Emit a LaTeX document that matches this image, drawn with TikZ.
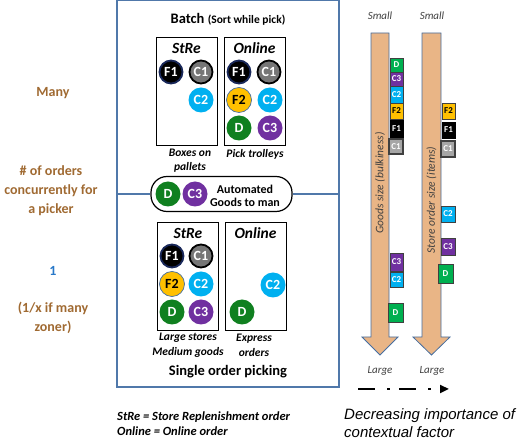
\documentclass[tikz,border=0pt]{standalone}
\usepackage{fontspec}
\setmainfont{Carlito}
\newfontfamily\arialfont{Liberation Sans}
\usetikzlibrary{arrows.meta}
\definecolor{brownlbl}{RGB}{160,106,50}
\definecolor{bluelbl}{RGB}{40,120,200}
\definecolor{framebl}{RGB}{80,120,170}
\definecolor{navyb}{RGB}{25,40,90}
\definecolor{grayc}{RGB}{118,118,118}
\definecolor{cyanc}{RGB}{0,176,240}
\definecolor{goldc}{RGB}{255,192,0}
\definecolor{greenc}{RGB}{16,128,32}
\definecolor{purplec}{RGB}{112,48,160}
\definecolor{greent}{RGB}{0,176,80}
\definecolor{grayt}{RGB}{166,166,166}
\definecolor{tanc}{RGB}{233,181,134}
\definecolor{arrowbd}{RGB}{70,110,160}
\definecolor{smallgray}{RGB}{64,64,64}
\tikzset{
  circ/.style={circle, minimum size=25pt, inner sep=0pt, text=white,
    font=\bfseries\fontsize{14}{14}\selectfont},
  cF1/.style={circ, fill=black, draw=navyb, line width=1.8pt, minimum size=23pt},
  cC1/.style={circ, fill=grayc, draw=black, line width=1.8pt, minimum size=23pt},
  cC2/.style={circ, fill=cyanc},
  cF2/.style={circ, fill=goldc, draw=arrowbd, line width=0.7pt, text=black},
  cD/.style={circ, fill=greenc},
  cC3/.style={circ, fill=purplec},
  tag/.style={rectangle, inner sep=0pt, text=white, draw=smallgray, line width=0.8pt,
    font=\bfseries\fontsize{9}{9}\selectfont},
  tD/.style={tag, fill=greent},
  tC3/.style={tag, fill=purplec},
  tC2/.style={tag, fill=cyanc},
  tF2/.style={tag, fill=goldc, text=black},
  tF1/.style={tag, fill=black, draw=black},
  tC1/.style={tag, fill=grayt, draw=smallgray, line width=1.1pt},
  ordbox/.style={draw=black, line width=1.2pt, inner sep=0pt, minimum width=61pt, minimum height=108pt, anchor=north west},
  boxtitle/.style={font=\bfseries\itshape\fontsize{15.5}{15}\selectfont, inner sep=0pt},
  caption/.style={font=\bfseries\itshape\fontsize{11.5}{14}\selectfont, align=center, inner sep=0pt},
  leftlbl/.style={font=\bfseries\fontsize{14}{19}\selectfont, align=center, text=brownlbl, inner sep=0pt},
  sizelbl/.style={font=\itshape\fontsize{11}{11}\selectfont, text=smallgray, inner sep=0pt},
  bigarrow/.style={fill=tanc, draw=arrowbd, line width=0.8pt},
}
\begin{document}
\begin{tikzpicture}[x=1pt,y=-1pt]
\useasboundingbox (0,0) rectangle (520,443);

% left labels
\node[leftlbl] (many) at (53,93) {Many};
\node[leftlbl] (norders) at (51,191) {\# of orders\\concurrently for\\a picker};
\node[leftlbl, text=bluelbl] (one) at (53,271) {1};
\node[leftlbl] (onex) at (53,318) {(1/x if many\\zoner)};

% main frame
\draw[framebl, line width=1.3pt] (117,0.8) rectangle (339,387);
\coordinate (divL) at (117,194);
\coordinate (divR) at (339,194);

\node[inner sep=0pt] (batch) at (228,19) {\bfseries\fontsize{14.5}{15}\selectfont Batch \fontsize{11.5}{12}\selectfont(Sort while pick)};

% top boxes
\node[ordbox] (streT) at (156,37) {};
\node[ordbox] (onlT) at (224,37) {};
\node[boxtitle] (streTt) at (186.5,48) {StRe};
\node[boxtitle] (onlTt) at (254.5,48) {Online};
\node[cF1] (tF1a) at (171,72) {F1};
\node[cC1] (tC1a) at (201,72) {C1};
\node[cC2] (tC2a) at (201,100) {C2};
\node[cF1] (tF1b) at (239,72) {F1};
\node[cC1] (tC1b) at (269,72) {C1};
\node[cF2] (tF2b) at (239,100) {F2};
\node[cC2] (tC2b) at (270,100) {C2};
\node[cD] (tDb) at (239,128) {D};
\node[cC3] (tC3b) at (270,128) {C3};
\node[caption] (capBoxes) at (190,161) {Boxes on\\pallets};
\node[caption] (capTrol) at (255,154) {Pick trolleys};

% pill
\node[draw=black, line width=1.2pt, rounded corners=16pt, minimum width=141pt, minimum height=35pt, inner sep=0pt] (pill) at (221.5,194) {};
\draw[framebl, line width=1.3pt] (divL) -- (pill.west);
\draw[framebl, line width=1.3pt] (pill.east) -- (divR);
\node[cD] (pD) at (168,194) {D};
\node[cC3] (pC3) at (195,194) {C3};
\node[font=\bfseries\fontsize{12}{13}\selectfont, align=center, inner sep=0pt] (agm) at (245,195.5) {Automated\\Goods to man};

% bottom boxes
\node[ordbox] (streB) at (157,222) {};
\node[ordbox] (onlB) at (225,222) {};
\node[boxtitle] (streBt) at (188,233) {StRe};
\node[boxtitle] (onlBt) at (255.5,233) {Online};
\node[cF1] (bF1a) at (172,256) {F1};
\node[cC1] (bC1a) at (201,256) {C1};
\node[cF2] (bF2a) at (172,284) {F2};
\node[cC2] (bC2a) at (201,284) {C2};
\node[cD] (bDa) at (172,312) {D};
\node[cC3] (bC3a) at (201,312) {C3};
\node[cC2] (bC2b) at (273,285) {C2};
\node[cD] (bDb) at (242,312) {D};
\node[caption, font=\bfseries\itshape\fontsize{11.5}{15}\selectfont] (capLarge) at (188,345) {Large stores\\Medium goods};
\node[caption, font=\bfseries\itshape\fontsize{11.5}{15}\selectfont] (capExp) at (254,345) {Express\\orders};
\node[inner sep=0pt, font=\bfseries\fontsize{14.5}{15}\selectfont] (single) at (228,372) {Single order picking};

% legend
\node[anchor=west, inner sep=0pt, font=\bfseries\itshape\fontsize{12.5}{15}\selectfont, align=left] (legend) at (117,423.5) {StRe = Store Replenishment order\\Online = Online order};

% big arrows
\draw[bigarrow] (371,33) -- (389,33) -- (389,337) -- (398,337) -- (380,355) -- (362,337) -- (371,337) -- cycle;
\draw[bigarrow] (422,33) -- (441,33) -- (441,337) -- (450,337) -- (431.5,355) -- (413,337) -- (422,337) -- cycle;
\node[sizelbl] (small1) at (380,16) {Small};
\node[sizelbl] (small2) at (432,16) {Small};
\node[sizelbl] (large1) at (380,371) {Large};
\node[sizelbl] (large2) at (432,371) {Large};
\node[rotate=90, font=\itshape\fontsize{11.5}{11}\selectfont, text=smallgray, inner sep=0pt] (goodsz) at (380,183) {Goods size (bulkiness)};
\node[rotate=90, font=\itshape\fontsize{11.5}{11}\selectfont, text=smallgray, inner sep=0pt] (storesz) at (431.5,200) {Store order size (items)};

% tags arrow 1
\node[tD, minimum width=13pt, minimum height=14pt] (a1D) at (396.5,65) {D};
\node[tC3, minimum width=13pt, minimum height=14pt] (a1C3) at (396.5,79) {C3};
\node[tC2, minimum width=13pt, minimum height=17pt] (a1C2) at (396.5,94.5) {C2};
\node[tF2, minimum width=13pt, minimum height=16pt] (a1F2) at (396.5,111) {F2};
\node[tF1, minimum width=13pt, minimum height=17pt] (a1F1) at (396.5,128.5) {F1};
\node[tC1, minimum width=14pt, minimum height=15pt] (a1C1) at (396,146.5) {C1};
\node[tC3, minimum width=13pt, minimum height=18pt] (a1C3b) at (396.5,262) {C3};
\node[tC2, minimum width=13pt, minimum height=15pt] (a1C2b) at (396.5,279.5) {C2};
\node[tD, minimum width=15pt, minimum height=19pt] (a1Db) at (395.5,312.5) {D};
% tags arrow 2
\node[tF2, minimum width=13pt, minimum height=16pt] (a2F2) at (448.5,111) {F2};
\node[tF1, minimum width=13pt, minimum height=16pt] (a2F1) at (448.5,130) {F1};
\node[tC1, minimum width=14pt, minimum height=16pt] (a2C1) at (448,149) {C1};
\node[tC2, minimum width=14pt, minimum height=16pt] (a2C2) at (448,214) {C2};
\node[tC3, minimum width=14pt, minimum height=17pt] (a2C3) at (448,246.5) {C3};
\node[tD, minimum width=15pt, minimum height=19pt] (a2D) at (445.5,273.5) {D};

% dash-dot arrow
\coordinate (ddS) at (358,389);
\coordinate (ddE) at (449,389);
\draw[line width=2.3pt, dash pattern=on 17pt off 12pt on 3pt off 9pt, -{Triangle[length=9pt,width=8pt]}] (ddS) -- (ddE);

\node[anchor=west, inner sep=0pt, font=\arialfont\itshape\fontsize{15}{18}\selectfont, align=left] (decr) at (344,423) {Decreasing importance of\\contextual factor};
\end{tikzpicture}
\end{document}
